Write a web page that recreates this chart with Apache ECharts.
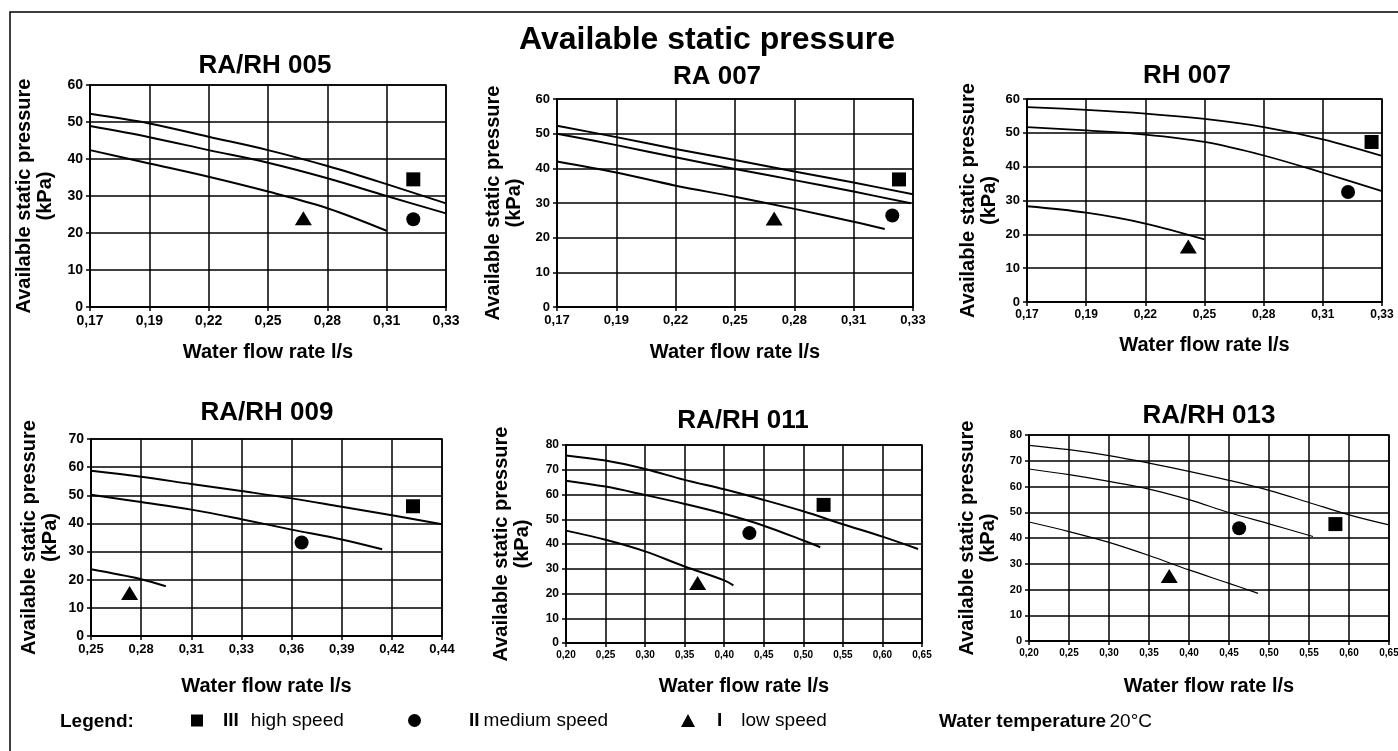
<!DOCTYPE html>
<html>
<head>
<meta charset="utf-8">
<script src="https://cdn.jsdelivr.net/npm/echarts@6/dist/echarts.min.js"></script>
<style>
  html, body { margin: 0; padding: 0; background: #fff; }
  #chart { width: 1398px; height: 751px; }
</style>
</head>
<body>
<div id="chart"></div>
<script>
// ---- data (flow l/s, pressure kPa) ----
const ticks005 = ['0,17', '0,19', '0,22', '0,25', '0,28', '0,31', '0,33']
const high005 = [[0.17, 52.2], [0.1967, 49.6], [0.2233, 46.0], [0.25, 42.4], [0.2767, 38.1], [0.3033, 33.2], [0.33, 28.0]]
const med005 = [[0.17, 48.9], [0.1967, 45.9], [0.2233, 42.4], [0.25, 39.0], [0.2767, 34.8], [0.3033, 30.0], [0.33, 25.3]]
const low005 = [[0.17, 42.4], [0.1967, 38.8], [0.2233, 35.2], [0.25, 31.2], [0.2767, 26.7], [0.3033, 20.6]]
const marks005 = [[0.3153, 34.5], [0.3153, 23.7], [0.2659, 24.0]]

const ticksRA007 = ['0,17', '0,19', '0,22', '0,25', '0,28', '0,31', '0,33']
const highRA007 = [[0.17, 52.3], [0.1967, 49.0], [0.2233, 45.6], [0.25, 42.4], [0.2767, 39.1], [0.3033, 35.9], [0.33, 32.5]]
const medRA007 = [[0.17, 50.0], [0.1967, 46.7], [0.2233, 43.2], [0.25, 39.8], [0.2767, 36.6], [0.3033, 33.3], [0.329, 29.9]]
const lowRA007 = [[0.17, 42.0], [0.1967, 38.8], [0.2233, 35.0], [0.25, 31.8], [0.2767, 28.3], [0.3033, 24.6], [0.3173, 22.5]]
const marksRA007 = [[0.3237, 36.8], [0.3207, 26.4], [0.2676, 25.5]]

const ticksRH007 = ['0,17', '0,19', '0,22', '0,25', '0,28', '0,31', '0,33']
const highRH007 = [[0.17, 57.6], [0.1967, 56.8], [0.2233, 55.7], [0.25, 54.1], [0.2767, 51.7], [0.3033, 48.1], [0.33, 43.2]]
const medRH007 = [[0.17, 51.7], [0.1967, 50.7], [0.2233, 49.5], [0.25, 47.3], [0.2767, 43.3], [0.3033, 38.2], [0.33, 32.8]]
const lowRH007 = [[0.17, 28.3], [0.1967, 26.4], [0.2233, 23.2], [0.25, 18.5]]
const marksRH007 = [[0.3253, 47.3], [0.3147, 32.5], [0.2427, 16.4]]

const ticks009 = ['0,25', '0,28', '0,31', '0,33', '0,36', '0,39', '0,42', '0,44']
const high009 = [[0.25, 58.7], [0.2771, 56.6], [0.3043, 54.0], [0.3314, 51.5], [0.3586, 48.9], [0.3857, 45.9], [0.4129, 42.9], [0.44, 39.7]]
const med009 = [[0.25, 50.2], [0.2771, 47.6], [0.3043, 44.9], [0.3314, 41.5], [0.3586, 37.8], [0.3857, 34.3], [0.4076, 30.8]]
const low009 = [[0.25, 23.7], [0.2771, 20.2], [0.2905, 17.7]]
const marks009 = [[0.4243, 46.1], [0.364, 33.2], [0.2709, 15.3]]

const ticks011 = ['0,20', '0,25', '0,30', '0,35', '0,40', '0,45', '0,50', '0,55', '0,60', '0,65']
const high011 = [[0.20, 75.8], [0.25, 73.7], [0.30, 70.3], [0.35, 65.9], [0.40, 62.1], [0.45, 57.8], [0.50, 53.2], [0.55, 48.0], [0.60, 43.0], [0.645, 38.0]]
const med011 = [[0.20, 65.6], [0.25, 63.2], [0.30, 59.8], [0.35, 56.2], [0.40, 52.2], [0.45, 47.4], [0.50, 41.4], [0.5214, 38.7]]
const low011 = [[0.20, 45.4], [0.25, 41.7], [0.30, 37.0], [0.35, 30.9], [0.40, 25.3], [0.4116, 23.3]]
const marks011 = [[0.5256, 55.8], [0.4318, 44.4], [0.3664, 24.2]]

const ticks013 = ['0,20', '0,25', '0,30', '0,35', '0,40', '0,45', '0,50', '0,55', '0,60', '0,65']
const high013 = [[0.20, 76.0], [0.25, 74.3], [0.30, 72.0], [0.35, 69.1], [0.40, 65.9], [0.45, 62.4], [0.50, 58.5], [0.55, 53.8], [0.60, 49.0], [0.65, 45.1]]
const med013 = [[0.20, 66.8], [0.25, 64.6], [0.30, 62.0], [0.35, 59.0], [0.40, 54.9], [0.45, 49.9], [0.50, 45.5], [0.555, 40.6]]
const low013 = [[0.20, 46.2], [0.25, 42.5], [0.30, 38.3], [0.35, 33.2], [0.40, 27.6], [0.45, 22.4], [0.4864, 18.5]]
const marks013 = [[0.583, 45.4], [0.4627, 43.8], [0.3753, 25.2]]

const speedNames = ['III', 'II', 'I']

// ---- layout of the six panels ----
const FONT = '"Liberation Sans", Arial, Helvetica, sans-serif'
const panels = [
    {title: 'RA/RH 005', ticks: ticks005, xMin: 0.17, xMax: 0.33, yMax: 60, curves: [high005, med005, low005], marks: marks005,
     box: [90, 85, 356, 222], head: [265, 66], xFont: 14, yFont: 14, xGap: 35, yGap: 34, lw: 2},
    {title: 'RA 007', ticks: ticksRA007, xMin: 0.17, xMax: 0.33, yMax: 60, curves: [highRA007, medRA007, lowRA007], marks: marksRA007,
     box: [557, 99, 356, 208], head: [717, 77], xFont: 13, yFont: 13, xGap: 35, yGap: 32, lw: 2},
    {title: 'RH 007', ticks: ticksRH007, xMin: 0.17, xMax: 0.33, yMax: 60, curves: [highRH007, medRH007, lowRH007], marks: marksRH007,
     box: [1027, 99, 355, 203], head: [1187, 76], xFont: 12, yFont: 13, xGap: 33, yGap: 27, lw: 1.8},
    {title: 'RA/RH 009', ticks: ticks009, xMin: 0.25, xMax: 0.44, yMax: 70, curves: [high009, med009, low009], marks: marks009,
     box: [91, 439, 351, 197], head: [267, 413], xFont: 13, yFont: 14, xGap: 40, yGap: 30, lw: 2},
    {title: 'RA/RH 011', ticks: ticks011, xMin: 0.20, xMax: 0.65, yMax: 80, curves: [high011, med011, low011], marks: marks011,
     box: [566, 445, 356, 198], head: [743, 421], xFont: 10, yFont: 12, xGap: 33, yGap: 33, lw: 2},
    {title: 'RA/RH 013', ticks: ticks013, xMin: 0.20, xMax: 0.65, yMax: 80, curves: [high013, med013, low013], marks: marks013,
     box: [1029, 435, 360, 206], head: [1209, 416], xFont: 10, yFont: 11, xGap: 35, yGap: 30, lw: 1.2}
]

const symbols = ['rect', 'circle', 'triangle']
const symbolSizes = [14, 14, [17, 14]]

const grids = [], xAxes = [], yAxes = [], series = []
const graphics = [
    {type: 'rect', shape: {x: 10, y: 12, width: 1420, height: 800}, style: {fill: 'none', stroke: '#000', lineWidth: 1.5}},
    {type: 'text', x: 707, y: 40, style: {text: 'Available static pressure', font: 'bold 32px ' + FONT, fill: '#000',
        textAlign: 'center', textVerticalAlign: 'middle', align: 'center', verticalAlign: 'middle'}}
]

panels.forEach((p, i) => {
    const step = (p.xMax - p.xMin) / (p.ticks.length - 1)
    grids.push({left: p.box[0], top: p.box[1], width: p.box[2], height: p.box[3], show: true,
        borderColor: '#000', borderWidth: 1.5, backgroundColor: '#fff', containLabel: false, outerBoundsMode: 'none'})
    xAxes.push({
        type: 'value', gridIndex: i, min: p.xMin, max: p.xMax, interval: step * 1.000001,
        name: 'Water flow rate l/s', nameLocation: 'middle', nameGap: p.xGap,
        nameTextStyle: {color: '#000', fontWeight: 'bold', fontSize: 20, fontFamily: FONT},
        axisLine: {show: true, onZero: false, lineStyle: {color: '#000', width: 1.5}},
        axisTick: {show: true, length: 4, lineStyle: {color: '#000', width: 1.5}},
        axisLabel: {margin: 7, color: '#000', fontWeight: 'bold', fontSize: p.xFont, fontFamily: FONT,
            showMinLabel: true, showMaxLabel: true, hideOverlap: false,
            formatter: v => p.ticks[Math.round((v - p.xMin) / step)]},
        splitLine: {show: true, lineStyle: {color: '#000', width: 1.5}}
    })
    yAxes.push({
        type: 'value', gridIndex: i, min: 0, max: p.yMax, interval: 10,
        name: 'Available static pressure\n(kPa)', nameLocation: 'middle', nameGap: p.yGap, nameRotate: 90,
        nameTextStyle: {color: '#000', fontWeight: 'bold', fontSize: 20, lineHeight: 21, fontFamily: FONT, align: 'center'},
        axisLine: {show: true, lineStyle: {color: '#000', width: 1.5}},
        axisTick: {show: true, length: 4, lineStyle: {color: '#000', width: 1.5}},
        axisLabel: {margin: 7, color: '#000', fontWeight: 'bold', fontSize: p.yFont, fontFamily: FONT,
            showMinLabel: true, showMaxLabel: true},
        splitLine: {show: true, lineStyle: {color: '#000', width: 1.5}}
    })
    p.curves.forEach((c, k) => {
        series.push({type: 'line', name: p.title + ' curve ' + k, xAxisIndex: i, yAxisIndex: i, data: c,
            smooth: 0.35, symbol: 'none', silent: true, z: 3,
            lineStyle: {color: '#000', width: p.lw, opacity: 1}})
    })
    p.marks.forEach((m, k) => {
        series.push({type: 'scatter', name: speedNames[k], xAxisIndex: i, yAxisIndex: i, data: [m],
            symbol: symbols[k], symbolSize: symbolSizes[k], itemStyle: {color: '#000', opacity: 1}, silent: true, z: 4})
    })
    graphics.push({type: 'text', x: p.head[0], y: p.head[1], style: {text: p.title, font: 'bold 26px ' + FONT, fill: '#000',
        textAlign: 'center', textVerticalAlign: 'middle', align: 'center', verticalAlign: 'middle'}})
})

graphics.push({type: 'text', x: 60, y: 722, style: {text: 'Legend:', font: 'bold 19px ' + FONT, fill: '#000',
    textVerticalAlign: 'middle', verticalAlign: 'middle'}})
graphics.push({type: 'text', x: 939, y: 722, style: {text: '{b|Water temperature} {n|20°C}', fill: '#000',
    textVerticalAlign: 'middle', verticalAlign: 'middle',
    rich: {b: {fontWeight: 'bold', fontSize: 19, fontFamily: FONT, fill: '#000'}, n: {fontSize: 19, fontFamily: FONT, fill: '#000'}}}})

// one legend block per speed, placed like the printed key
const legendRich = {
    b: {fontWeight: 'bold', fontSize: 19, fontFamily: FONT, color: '#000'},
    n: {fontSize: 19, fontFamily: FONT, color: '#000'},
    s15: {width: 15}, s12: {width: 12}, s43: {width: 43}, s17: {width: 17}, s19: {width: 19}, s3: {width: 4}
}
const legendText = {
    'III': '{s15| }{b|III}{s12| }{n|high speed}',
    'II': '{s43| }{b|II}{s3| }{n|medium speed}',
    'I': '{s17| }{b|I}{s19| }{n|low speed}'
}
const legendLeft = [191, 408, 681]
const legendIcon = [[12, 12], [13, 13], [14, 13]]
const legends = speedNames.map((nm, k) => ({
    left: legendLeft[k], top: 711, padding: 0, selectedMode: false,
    itemWidth: legendIcon[k][0], itemHeight: legendIcon[k][1],
    data: [{name: nm, icon: symbols[k], itemStyle: {color: '#000', opacity: 1}}],
    formatter: n => legendText[n],
    textStyle: {rich: legendRich, color: '#000'}
}))

const myChart = echarts.init(document.getElementById('chart'), null, {renderer: 'canvas'})
myChart.setOption({
    backgroundColor: '#fff',
    animation: false,
    grid: grids,
    xAxis: xAxes,
    yAxis: yAxes,
    legend: legends,
    graphic: graphics,
    series: series
})
</script>
</body>
</html>
